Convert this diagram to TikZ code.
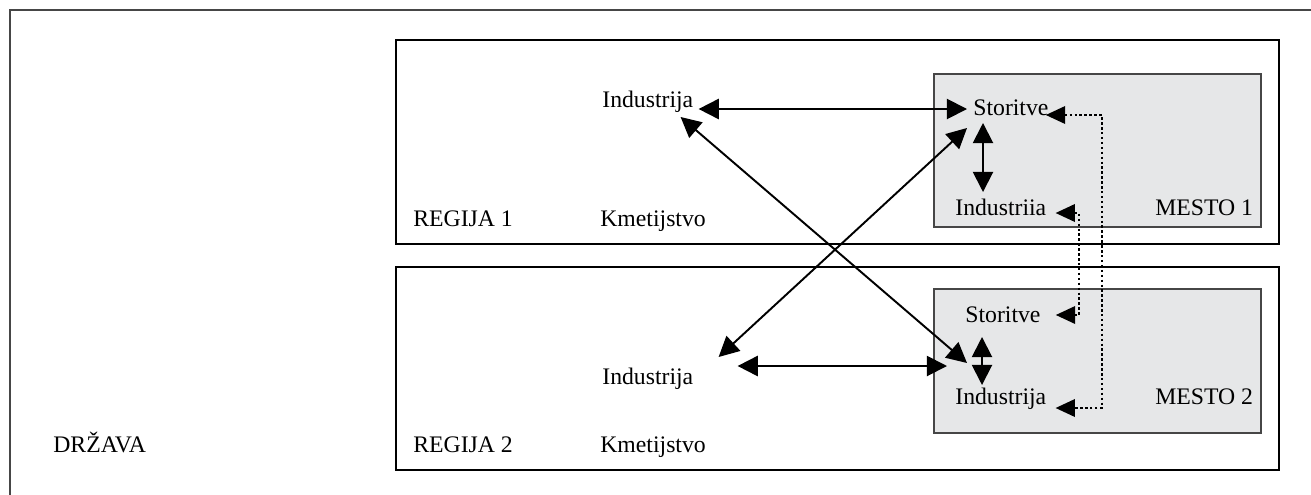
\documentclass[tikz,border=0pt]{standalone}
\usepackage{fontspec}
\setmainfont{Liberation Serif}
\usetikzlibrary{arrows.meta,calc}

\definecolor{mestogray}{RGB}{230,231,232}
\definecolor{framegray}{RGB}{70,70,70}

\begin{document}
\begin{tikzpicture}[x=0.02cm,y=-0.02cm,
    lbl/.style={anchor=base west,inner sep=0pt,font=\fontsize{13.5}{16}\selectfont},
    arr/.style={line width=1.1pt,{Triangle[length=11.5pt,width=11.5pt]}-{Triangle[length=11.5pt,width=11.5pt]}},
    dotarr/.style={line width=1pt,dash pattern=on 1.4pt off 1.4pt,{Triangle[length=11pt,width=10pt]}-{Triangle[length=11pt,width=10pt]}}]
    \useasboundingbox (0,0) rectangle (1311,494);

    % frames
    \draw[framegray,line width=0.7pt] (1320,10) -- (10,10) -- (10,500);
    \draw[line width=0.8pt] (396,40) rectangle (1279,244);
    \draw[line width=0.8pt] (396,267) rectangle (1279,470);
    \draw[framegray,fill=mestogray,line width=0.8pt] (934,74) rectangle (1261,227);
    \draw[framegray,fill=mestogray,line width=0.8pt] (934,289) rectangle (1261,433);

    % labels
    \node[lbl] (drzava) at (53,452) {DRŽAVA};
    \node[lbl] (reg1) at (413,226) {REGIJA 1};
    \node[lbl] (reg2) at (413,452) {REGIJA 2};
    \node[lbl] (kme1) at (600,226) {Kmetijstvo};
    \node[lbl] (kme2) at (600,452) {Kmetijstvo};
    \node[lbl] (ind1) at (602,107) {Industrija};
    \node[lbl] (ind2) at (602,384) {Industrija};

    \node[lbl] (sto1) at (973,115) {Storitve};
    \node[lbl] (ind1m) at (955,215) {Industriia};
    \node[lbl] (mes1) at (1155,215) {MESTO 1};
    \node[lbl] (sto2) at (965,322) {Storitve};
    \node[lbl] (ind2m) at (955,404) {Industrija};
    \node[lbl] (mes2) at (1155,404) {MESTO 2};

    % links
    \draw[arr] ($(ind1.base east)+(5,2)$) -- ($(sto1.base west)+(-6,-6)$);
    \draw[arr] ($(ind2.base east)+(44,-18)$) -- ($(ind2m.base west)+(-8,-38)$);
    \draw[arr] ($(ind1.base east)+(-13,10)$) -- ($(ind2m.base west)+(12,-41)$);
    \draw[arr] ($(ind2.base east)+(25,-27)$) -- ($(sto1.base west)+(-6,13)$);
    \draw[arr] ($(sto1.base west)+(10,8)$) -- ($(ind1m.base west)+(28,-23)$);
    \draw[arr] ($(sto2.base west)+(17,15)$) -- ($(ind2m.base west)+(27,-19)$);

    \draw[dotarr] ($(ind1m.base east)+(9,-2)$) -- ++(23,0) |- ($(sto2.base east)+(15,-7)$);
    \draw[dotarr] ($(sto1.base east)+(-3,0)$) -- ++(56,0) |- ($(ind2m.base east)+(9,4)$);
\end{tikzpicture}
\end{document}
